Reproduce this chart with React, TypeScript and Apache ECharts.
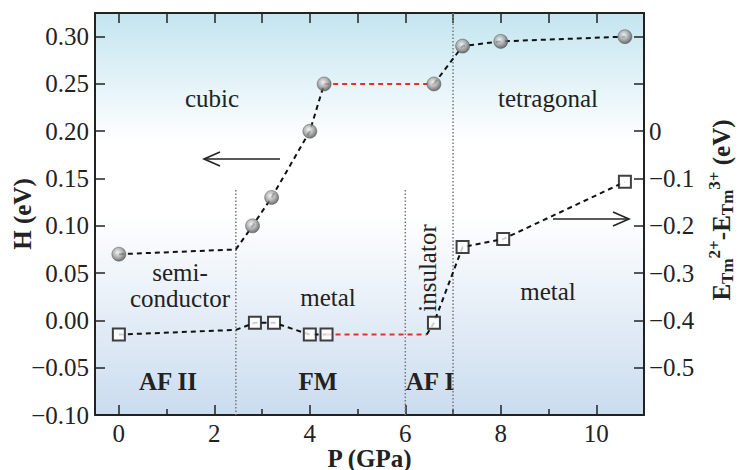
import React, { useEffect, useRef } from "react";
import * as echarts from "echarts";

// ---- axis ticks / labels ----
const xLabelValues = [0, 2, 4, 6, 8, 10];
const xMinorTickValues = [1, 3, 5, 7, 9];
const xTopTickValues = [0, 1, 2, 3, 4, 5, 6, 7, 8, 9, 10];
const leftTickValues = [-0.1, -0.05, 0, 0.05, 0.1, 0.15, 0.2, 0.25, 0.3];
const rightTickValues = [-0.5, -0.4, -0.3, -0.2, -0.1, 0, 0.1, 0.2];
const rightLabelValues = [-0.5, -0.4, -0.3, -0.2, -0.1, 0];

// ---- H (eV), circles, left axis ----
const pressureH = [0, 2.8, 3.2, 4.0, 4.3, 6.6, 7.2, 8.0, 10.6];
const enthalpyH = [0.07, 0.1, 0.13, 0.2, 0.25, 0.25, 0.29, 0.295, 0.3];
const bendH = [[2.45, 0.075]];

// ---- E(Tm2+) - E(Tm3+) (eV), squares, right axis ----
const pressureE = [0, 2.85, 3.25, 4.0, 4.35, 6.6, 7.2, 8.05, 10.6];
const energyE = [-0.43, -0.405, -0.405, -0.43, -0.43, -0.405, -0.245, -0.228, -0.107];
const bendE = [[2.45, -0.42], [6.45, -0.43]];

// ---- phase boundaries (dotted verticals) ----
const boundaryP = [2.45, 6.0, 7.0];
const boundaryTop = [0.138, 0.138, 0.325];

const FONT = "Liberation Serif";
const INK = "#222";
const FS = 25;

export default function App() {
  const ref = useRef<HTMLDivElement>(null);

  useEffect(() => {
    if (!ref.current) return;
    const chart = echarts.init(ref.current, undefined, { renderer: "svg" });

    const ptsH = pressureH.map((p, i) => [p, enthalpyH[i]]);
    const ptsE = pressureE.map((p, i) => [p, energyE[i]]);
    const byX = (a: number[], b: number[]) => a[0] - b[0];

    const hBlack1 = [...ptsH.slice(0, 5), ...bendH].sort(byX);
    const hRed = [ptsH[4], ptsH[5]];
    const hBlack2 = ptsH.slice(5);
    const eBlack1 = [...ptsE.slice(0, 5), bendE[0]].sort(byX);
    const eRed = [ptsE[4], bendE[1]];
    const eBlack2 = [bendE[1], ...ptsE.slice(5)];

    const dashLine = (data: number[][], color: string, yAxisIndex: number) => ({
      type: "line",
      data,
      yAxisIndex,
      symbol: "none",
      silent: true,
      z: 3,
      lineStyle: { color, width: 2, type: [5, 4] },
    });

    const boundarySeries = boundaryP.map((p, i) => ({
      type: "line",
      data: [
        [p, boundaryTop[i]],
        [p, -0.1],
      ],
      yAxisIndex: 0,
      symbol: "none",
      silent: true,
      z: 2,
      lineStyle: { color: "#777", width: 1.5, type: [1.5, 2] },
    }));

    const txt = (text: string, x: number, y: number, extra: any = {}, rotation = 0) => ({
      type: "text",
      x,
      y,
      rotation,
      z: 10,
      style: {
        text,
        fill: INK,
        fontFamily: FONT,
        fontSize: FS,
        textAlign: "center",
        textVerticalAlign: "middle",
        ...extra,
      },
    });

    const arrow = (x1: number, x2: number, y: number) => {
      const dir = x2 > x1 ? -1 : 1;
      return [
        {
          type: "line",
          z: 10,
          shape: { x1, y1: y, x2, y2: y },
          style: { stroke: INK, lineWidth: 1.6 },
        },
        {
          type: "polyline",
          z: 10,
          shape: {
            points: [
              [x2 + dir * 16, y - 7],
              [x2, y],
              [x2 + dir * 16, y + 7],
            ],
          },
          style: { stroke: INK, lineWidth: 1.6, fill: "none" },
        },
      ];
    };

    const sub = { fontSize: 17, fontWeight: "bold", fontFamily: FONT, fill: INK, verticalAlign: "bottom", lineHeight: 17 };
    const sup = { fontSize: 17, fontWeight: "bold", fontFamily: FONT, fill: INK, verticalAlign: "top", lineHeight: 17 };
    const main = { fontSize: FS, fontWeight: "bold", fontFamily: FONT, fill: INK, lineHeight: 30 };

    const tickStyle = { color: INK, width: 1.5 };
    const lineStyle = { color: INK, width: 2 };

    const option: any = {
      animation: false,
      grid: {
        left: 95,
        right: 94,
        top: 13,
        bottom: 55,
        outerBoundsMode: "none",
        containLabel: false,
        show: true,
        borderWidth: 0,
        backgroundColor: new echarts.graphic.LinearGradient(0, 0, 0, 1, [
          { offset: 0, color: "#c3e5f0" },
          { offset: 0.32, color: "#ffffff" },
          { offset: 0.5, color: "#ffffff" },
          { offset: 1, color: "#cadcef" },
        ]),
      },
      xAxis: [
        {
          type: "value",
          min: -0.5,
          max: 11,
          position: "bottom",
          name: "P (GPa)",
          nameLocation: "middle",
          nameGap: 32,
          nameMoveOverlap: false,
          nameTextStyle: { fontFamily: FONT, fontSize: FS, fontWeight: "bold", color: INK, lineHeight: 22 },
          axisLine: { show: true, onZero: false, lineStyle },
          axisTick: { show: true, inside: true, length: 10, customValues: xLabelValues, lineStyle: tickStyle },
          axisLabel: { customValues: xLabelValues, fontFamily: FONT, fontSize: FS, color: INK, margin: 7, lineHeight: 22 },
          splitLine: { show: false },
        },
        {
          type: "value",
          min: -0.5,
          max: 11,
          position: "bottom",
          axisLine: { show: false, onZero: false },
          axisTick: { show: true, inside: true, length: 6, customValues: xMinorTickValues, lineStyle: tickStyle },
          axisLabel: { show: false },
          splitLine: { show: false },
        },
        {
          type: "value",
          min: -0.5,
          max: 11,
          position: "top",
          axisLine: { show: true, onZero: false, lineStyle },
          axisTick: { show: true, inside: true, length: 10, customValues: xTopTickValues, lineStyle: tickStyle },
          axisLabel: { show: false },
          splitLine: { show: false },
        },
      ],
      yAxis: [
        {
          type: "value",
          min: -0.1,
          max: 0.325,
          position: "left",
          name: "H (eV)",
          nameLocation: "middle",
          nameGap: 60,
          nameMoveOverlap: false,
          nameTextStyle: { fontFamily: FONT, fontSize: FS, fontWeight: "bold", color: INK },
          axisLine: { show: true, onZero: false, lineStyle },
          axisTick: { show: true, inside: true, length: 10, customValues: leftTickValues, lineStyle: tickStyle },
          axisLabel: {
            customValues: leftTickValues,
            fontFamily: FONT,
            fontSize: FS,
            color: INK,
            margin: 6,
            formatter: (v: number) => (v < -1e-9 ? "\u2212" : "") + Math.abs(v).toFixed(2),
          },
          splitLine: { show: false },
        },
        {
          type: "value",
          min: -0.6,
          max: 0.25,
          position: "right",
          axisLine: { show: true, onZero: false, lineStyle },
          axisTick: { show: true, inside: true, length: 10, customValues: rightTickValues, lineStyle: tickStyle },
          axisLabel: {
            customValues: rightLabelValues,
            fontFamily: FONT,
            fontSize: FS,
            color: INK,
            margin: 5,
            formatter: (v: number) => (Math.abs(v) < 1e-9 ? "0" : "\u2212" + Math.abs(v).toFixed(1)),
          },
          splitLine: { show: false },
        },
      ],
      series: [
        ...boundarySeries,
        dashLine(hBlack1, "#111", 0),
        dashLine(hRed, "#e8302a", 0),
        dashLine(hBlack2, "#111", 0),
        dashLine(eBlack1, "#111", 1),
        dashLine(eRed, "#e8302a", 1),
        dashLine(eBlack2, "#111", 1),
        {
          type: "scatter",
          yAxisIndex: 0,
          data: ptsH,
          symbol: "circle",
          symbolSize: 14,
          z: 5,
          itemStyle: {
            color: new echarts.graphic.RadialGradient(0.42, 0.38, 0.62, [
              { offset: 0, color: "#f2f2f2" },
              { offset: 0.55, color: "#a0a0a0" },
              { offset: 1, color: "#505050" },
            ]),
            borderColor: "#555",
            borderWidth: 0.6,
          },
        },
        {
          type: "scatter",
          yAxisIndex: 1,
          data: ptsE,
          symbol: "rect",
          symbolSize: 12,
          z: 5,
          itemStyle: { color: "#fff", borderColor: "#111", borderWidth: 2 },
        },
      ],
      graphic: [
        txt("cubic", 212, 98),
        txt("tetragonal", 548, 98),
        txt("semi-\nconductor", 180, 285, { lineHeight: 26 }),
        txt("metal", 328, 297),
        txt("metal", 548, 291),
        txt("insulator", 427, 268, {}, Math.PI / 2),
        txt("AF II", 168, 381, { fontWeight: "bold" }),
        txt("FM", 318, 381, { fontWeight: "bold" }),
        txt("AF I", 430, 381, { fontWeight: "bold" }),
        ...arrow(280, 204, 159),
        ...arrow(553, 629, 219),
        {
          type: "text",
          x: 721,
          y: 210,
          rotation: Math.PI / 2,
          z: 10,
          style: {
            text: "{m|E}{s|Tm}{p|2+}{m|-E}{s|Tm}{p|3+}{m| (eV)}",
            textAlign: "center",
            textVerticalAlign: "middle",
            rich: { m: main, s: sub, p: sup },
          },
        },
      ],
    };

    chart.setOption(option);
    return () => chart.dispose();
  }, []);

  return (
    <div
      ref={ref}
      style={{ position: "fixed", left: 0, top: 0, width: 738, height: 470, background: "#fff" }}
    />
  );
}
